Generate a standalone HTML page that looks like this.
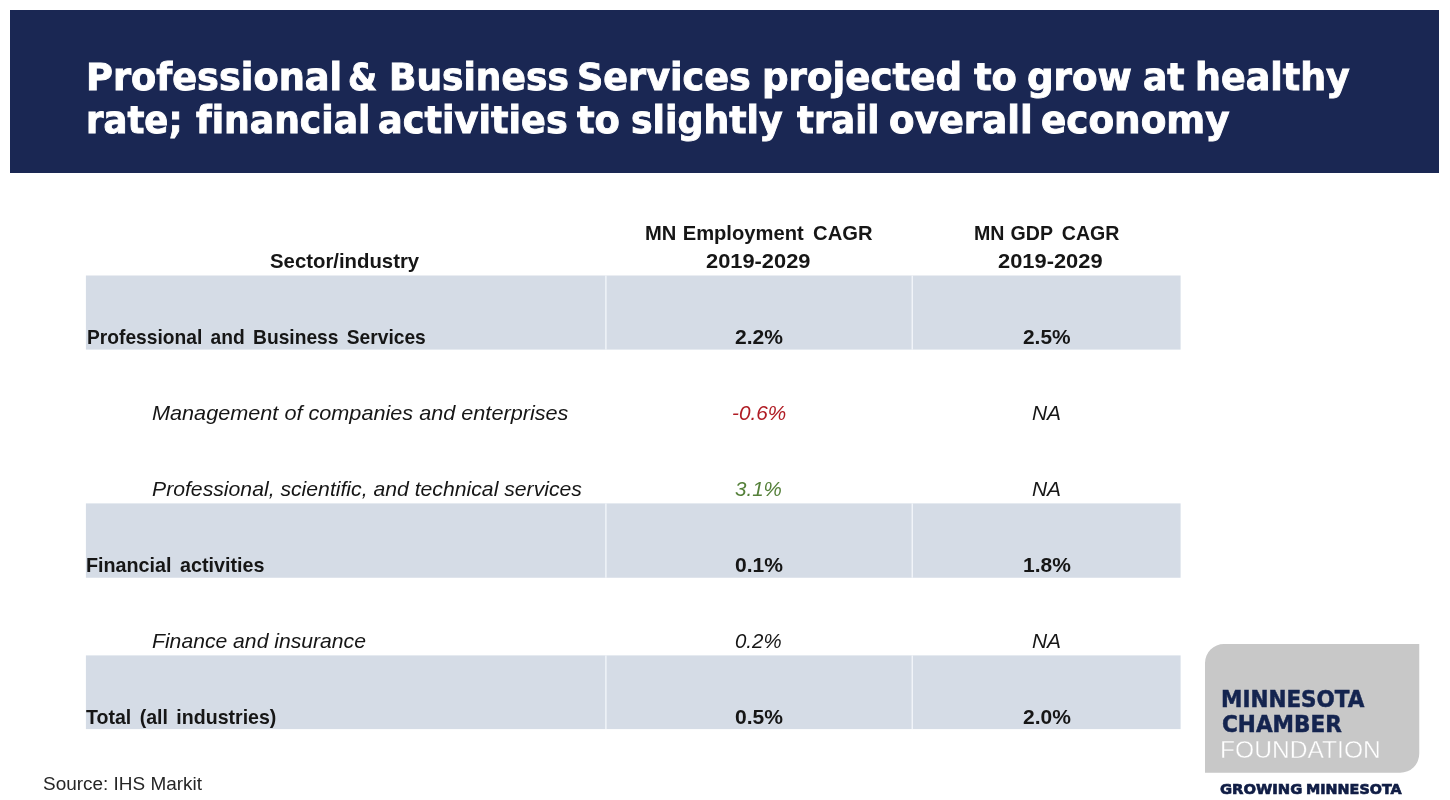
<!DOCTYPE html>
<html lang="en"><head><meta charset="utf-8"><title>Professional &amp; Business Services</title>
<style>
*{margin:0;padding:0;box-sizing:border-box}
html,body{width:1450px;height:800px;background:#fff;overflow:hidden}
body{position:relative;font-family:"Liberation Sans", sans-serif;color:#161616}
.t{position:absolute;font-size:19.8px;white-space:nowrap;font-variant-ligatures:none;line-height:1;transform-origin:0 0;display:block;font-weight:normal;font-style:normal}
.b{font-weight:bold}
.i{font-style:italic}
.dv{font-family:"DejaVu Sans", "Liberation Sans", sans-serif}
header{position:absolute;left:10px;top:10px;width:1429px;height:163px;background:#1a2753}
svg.bg{position:absolute;left:0;top:0}
table,thead,tbody,tr,th,td,.source,.logo,.logo div{display:contents}
header h1{font-size:0}
header .t{color:#fff;font-size:36.4px;-webkit-text-stroke:.9px #fff}
</style></head>
<body>
<header><h1><span class="t b dv" style="left:75.69px;top:50px;transform:scaleX(1.0089)">Professional </span><span class="t b dv" style="left:338.15px;top:50px;transform:scaleX(0.9156)">&amp; </span><span class="t b dv" style="left:378.91px;top:50px;transform:scaleX(0.9897)">Business </span><span class="t b dv" style="left:567.19px;top:50px;transform:scaleX(1.0042)">Services </span><span class="t b dv" style="left:751.87px;top:50px;transform:scaleX(1.0219)">projected </span><span class="t b dv" style="left:963.88px;top:50px;transform:scaleX(1.0123)">to </span><span class="t b dv" style="left:1017.26px;top:50px;transform:scaleX(1.0215)">grow </span><span class="t b dv" style="left:1132.71px;top:50px;transform:scaleX(0.9911)">at </span><span class="t b dv" style="left:1185.43px;top:50px;transform:scaleX(1.0011)">healthy</span><br><span class="t b dv" style="left:76.16px;top:93px;transform:scaleX(0.9740)">rate; </span><span class="t b dv" style="left:185.63px;top:93px;transform:scaleX(0.9922)">financial </span><span class="t b dv" style="left:367.58px;top:93px;transform:scaleX(1.0073)">activities </span><span class="t b dv" style="left:567.28px;top:93px;transform:scaleX(1.0123)">to </span><span class="t b dv" style="left:621.04px;top:93px;transform:scaleX(0.9970)">slightly </span><span class="t b dv" style="left:786.70px;top:93px;transform:scaleX(0.9706)">trail </span><span class="t b dv" style="left:878.67px;top:93px;transform:scaleX(1.0196)">overall </span><span class="t b dv" style="left:1031.06px;top:93px;transform:scaleX(1.0260)">economy</span></h1></header>
<svg class="bg" width="1450" height="800" viewBox="0 0 1450 800" aria-hidden="true"><rect x="85.9" y="275.5" width="1094.7" height="74.10" fill="#d5dce6"/><rect x="605.25" y="275.5" width="1.3" height="74.10" fill="#f4f7fb"/><rect x="911.60" y="275.5" width="1.3" height="74.10" fill="#f4f7fb"/><rect x="85.9" y="503.4" width="1094.7" height="74.35" fill="#d5dce6"/><rect x="605.25" y="503.4" width="1.3" height="74.35" fill="#f4f7fb"/><rect x="911.60" y="503.4" width="1.3" height="74.35" fill="#f4f7fb"/><rect x="85.9" y="655.4" width="1094.7" height="73.70" fill="#d5dce6"/><rect x="605.25" y="655.4" width="1.3" height="73.70" fill="#f4f7fb"/><rect x="911.60" y="655.4" width="1.3" height="73.70" fill="#f4f7fb"/><path d="M1224,644 H1419.25 V753.8 A19,19 0 0 1 1400.25,772.8 H1205 V663 A19,19 0 0 1 1224,644 Z" fill="#c8c8c8"/></svg>
<main>
<table>
<thead><tr><th scope="col"><span class="t b" style="left:269.89px;top:252px;transform:scaleX(1.0282)">Sector/industry</span></th><th scope="col"><span class="t b" style="left:644.59px;top:224px;transform:scaleX(1.0194);word-spacing:0.7px">MN Employment <span style="margin-left:3px">CAGR</span></span><span class="t b" style="left:706.44px;top:252px;transform:scaleX(1.1041)">2019-2029</span></th><th scope="col"><span class="t b" style="left:973.72px;top:224px;transform:scaleX(0.9896);word-spacing:0.7px">MN GDP <span style="margin-left:3px">CAGR</span></span><span class="t b" style="left:997.74px;top:252px;transform:scaleX(1.1052)">2019-2029</span></th></tr></thead>
<tbody>
<tr class="sector"><th scope="row"><span class="t b" style="left:86.60px;top:328px;transform:scaleX(0.9715);word-spacing:3px">Professional and Business Services</span></th><td><span class="t b" style="left:735.27px;top:328px;transform:scaleX(1.0644)">2.2%</span></td><td><span class="t b" style="left:1023.47px;top:328px;transform:scaleX(1.0553)">2.5%</span></td></tr>
<tr class="sub"><th scope="row"><span class="t i" style="left:152.15px;top:404px;transform:scaleX(1.0944)">Management of companies and enterprises</span></th><td><span class="t i" style="left:731.71px;top:404px;transform:scaleX(1.0499);color:#b01c24">-0.6%</span></td><td><span class="t i" style="left:1032.37px;top:404px;transform:scaleX(1.0584)">NA</span></td></tr>
<tr class="sub"><th scope="row"><span class="t i" style="left:152.16px;top:480px;transform:scaleX(1.0714)">Professional, scientific, and technical services</span></th><td><span class="t i" style="left:735.34px;top:480px;transform:scaleX(1.0407);color:#55803a">3.1%</span></td><td><span class="t i" style="left:1032.37px;top:480px;transform:scaleX(1.0584)">NA</span></td></tr>
<tr class="sector"><th scope="row"><span class="t b" style="left:86.31px;top:556px;transform:scaleX(0.9976);word-spacing:3px">Financial activities</span></th><td><span class="t b" style="left:735.47px;top:556px;transform:scaleX(1.0644)">0.1%</span></td><td><span class="t b" style="left:1023.44px;top:556px;transform:scaleX(1.0605)">1.8%</span></td></tr>
<tr class="sub"><th scope="row"><span class="t i" style="left:152.37px;top:632px;transform:scaleX(1.0690)">Finance and insurance</span></th><td><span class="t i" style="left:735.18px;top:632px;transform:scaleX(1.0330)">0.2%</span></td><td><span class="t i" style="left:1032.37px;top:632px;transform:scaleX(1.0584)">NA</span></td></tr>
<tr class="sector"><th scope="row"><span class="t b" style="left:86.05px;top:708px;transform:scaleX(0.9890);word-spacing:3px">Total (all industries)</span></th><td><span class="t b" style="left:735.37px;top:708px;transform:scaleX(1.0644)">0.5%</span></td><td><span class="t b" style="left:1023.37px;top:708px;transform:scaleX(1.0621)">2.0%</span></td></tr>
</tbody></table>
</main>
<footer>
<p class="source"><span class="t" style="left:43.04px;top:775px;transform:scaleX(1.0048);font-size:18.86px;color:#262626">Source: IHS Markit</span></p>
<div class="logo"><div><span class="t b dv" style="left:1220.81px;top:688px;transform:scaleX(0.9392);font-size:22.9px;color:#14244f;-webkit-text-stroke:0.5px #14244f">MINNESOTA</span></div><div><span class="t b dv" style="left:1221.89px;top:713px;transform:scaleX(0.9425);font-size:22.9px;color:#14244f;-webkit-text-stroke:0.5px #14244f">CHAMBER</span></div><div><span class="t" style="left:1220.13px;top:739px;transform:scaleX(1.0426);font-size:23.6px;color:#fff;-webkit-text-stroke:0.4px #c8c8c8">FOUNDATION</span></div><div class="tag"><span class="t b dv" style="left:1220.16px;top:782px;transform:scaleX(1.0118);font-size:14.6px;color:#101d45;-webkit-text-stroke:0.7px #101d45">GROWING </span><span class="t b dv" style="left:1305.66px;top:782px;transform:scaleX(0.9828);font-size:14.6px;color:#101d45;-webkit-text-stroke:0.7px #101d45">MINNESOTA</span></div></div>
</footer>
</body></html>
